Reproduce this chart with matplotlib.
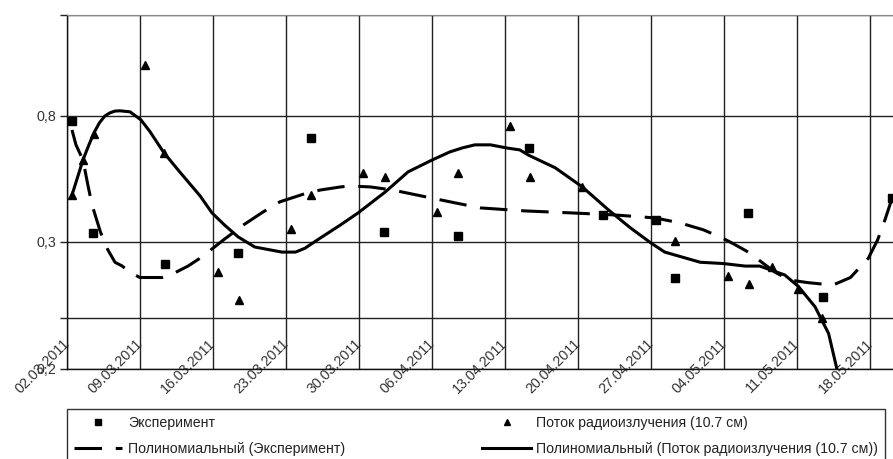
import numpy as np
import matplotlib
matplotlib.use('Agg')
import matplotlib.pyplot as plt
import matplotlib.transforms as mtransforms
from matplotlib.lines import Line2D

plt.rcParams['font.family'] = ['Liberation Sans', 'DejaVu Sans']

# x = days counted from 02.03.2011
exp_days = [0.5, 2.5, 9.4, 16.4, 23.4, 30.4, 37.5, 44.3, 51.4, 56.5, 58.3, 65.3, 72.5, 79.1]
exp_vals = [0.78, 0.336, 0.283, 0.291, 0.713, 0.340, 0.324, 0.673, 0.407, 0.387, 0.272, 0.415, 0.257, 0.475]

flux_days = [0.5, 1.5, 2.6, 7.5, 9.3, 14.5, 16.5, 21.5, 23.4, 28.4, 30.5, 35.5, 37.5,
             42.5, 44.4, 49.4, 58.3, 63.4, 65.4, 67.6, 70.1, 72.4]
flux_vals = [0.486, 0.625, 0.729, 1.002, 0.653, 0.276, 0.254, 0.352, 0.486, 0.574, 0.558, 0.419, 0.574,
             0.760, 0.558, 0.518, 0.304, 0.273, 0.267, 0.280, 0.263, 0.240]

# polynomial trend lines
trend_exp_days = [0.48, 0.86, 1.53, 2.0, 2.4, 3.2, 3.9, 4.6, 5.3, 6.0, 7.0, 9.1, 10.4, 11.6, 12.9,
                  15.0, 16.9, 18.8, 20.4, 23.0, 24.3, 26.2, 27.1, 29.1, 31.2, 35.3, 37.2, 39.6,
                  43.9, 48.4, 52.5, 56.4, 58.8, 61.0, 62.8, 64.0, 65.3, 67.9, 69.3, 71.0, 72.2,
                  73.4, 75.1, 76.0, 76.8, 77.7, 78.4, 79.1]
trend_exp_vals = [0.744, 0.685, 0.625, 0.526, 0.447, 0.340, 0.294, 0.284, 0.281, 0.276, 0.272, 0.272,
                  0.276, 0.281, 0.288, 0.308, 0.367, 0.419, 0.459, 0.494, 0.506, 0.518, 0.522, 0.518,
                  0.506, 0.471, 0.455, 0.435, 0.423, 0.415, 0.407, 0.395, 0.375, 0.348, 0.316, 0.298,
                  0.292, 0.276, 0.270, 0.268, 0.267, 0.266, 0.272, 0.280, 0.287, 0.308, 0.387, 0.475]

trend_flux_days = [0.48, 1.53, 2.1, 2.59, 3.1, 3.64, 4.12, 4.6, 5.08, 6.04, 7.09, 7.96, 9.3, 10.8,
                   12.75, 13.9, 15.1, 16.4, 18.0, 19.3, 20.6, 21.9, 22.8, 24.3, 26.2, 27.9, 30.5,
                   32.7, 35.0, 36.7, 37.9, 39.1, 40.6, 42.1, 43.4, 44.2, 46.8, 49.4, 51.9, 54.0,
                   56.0, 57.3, 59.0, 60.7, 62.9, 65.0, 66.4, 68.8, 70.1, 71.7, 73.0, 73.8]
trend_flux_vals = [0.486, 0.625, 0.685, 0.733, 0.772, 0.800, 0.812, 0.819, 0.820, 0.816, 0.784, 0.737,
                   0.653, 0.578, 0.483, 0.415, 0.367, 0.320, 0.296, 0.294, 0.292, 0.292, 0.295, 0.316,
                   0.367, 0.415, 0.498, 0.578, 0.625, 0.657, 0.673, 0.685, 0.685, 0.673, 0.665, 0.645,
                   0.594, 0.518, 0.427, 0.356, 0.299, 0.292, 0.288, 0.284, 0.283, 0.281, 0.281, 0.274,
                   0.265, 0.249, 0.228, 0.200]

date_days = [0, 7, 14, 21, 28, 35, 42, 49, 56, 63, 70, 77]
date_labels = ['02.03.2011', '09.03.2011', '16.03.2011', '23.03.2011', '30.03.2011', '06.04.2011',
               '13.04.2011', '20.04.2011', '27.04.2011', '04.05.2011', '11.05.2011', '18.05.2011']

y_ticks = [0.2, 0.24, 0.3, 0.8, 1.2]
y_labels = ['0,2', '', '0,3', '0,8', '']

# uneven value axis of the original chart
_v = [0.0, 0.2, 0.3, 0.8, 2.0]
_p = [-254.0, 0.0, 127.0, 253.0, 555.4]

def fwd(v):
    return np.interp(v, _v, _p)

def inv(p):
    return np.interp(p, _p, _v)


fig = plt.figure(figsize=(8.93, 4.59), dpi=100)
ax = fig.add_axes([67/893, 1 - 369/459, 834.6/893, 354/459])
ax.set_yscale('function', functions=(fwd, inv))
ax.set_xlim(0, 80)
ax.set_ylim(0.2, 1.2)

ax.set_xticks(date_days)
ax.set_xticklabels(date_labels, rotation=45, ha='right', va='center',
                   rotation_mode='anchor', fontsize=10.3, color='#333333')
shift = mtransforms.ScaledTranslation(4/72, 0, fig.dpi_scale_trans)
for lab in ax.get_xticklabels():
    lab.set_transform(lab.get_transform() + shift)
ax.set_yticks(y_ticks)
ax.set_yticklabels(y_labels, fontsize=10.3, color='#333333')
ax.minorticks_off()
ax.tick_params(axis='x', length=0, pad=-20)
ax.tick_params(axis='y', length=5, width=1, color='#222222', pad=3)

ax.grid(True, color='#222222', lw=1.0)
ax.set_axisbelow(True)
for s in ['left', 'bottom']:
    ax.spines[s].set_color('#111111')
    ax.spines[s].set_linewidth(1.0)
ax.spines['top'].set_color('#888888')
ax.spines['right'].set_visible(False)

ax.plot(trend_exp_days, trend_exp_vals, color='black', lw=2.2, ls=(0, (9, 4.5)), zorder=3)
ax.plot(trend_flux_days, trend_flux_vals, color='black', lw=2.2, zorder=3)
ax.plot(exp_days, exp_vals, ls='none', marker='s', ms=5.2, color='black', zorder=4)
ax.plot(flux_days, flux_vals, ls='none', marker='^', ms=6, color='black', zorder=4)

handles = [
    Line2D([], [], ls='none', marker='s', ms=4, color='black'),
    Line2D([], [], color='black', lw=2.2, ls=(0, (9, 4.5))),
    Line2D([], [], ls='none', marker='^', ms=5, color='black'),
    Line2D([], [], color='black', lw=2.2),
]
labels = ['Эксперимент', 'Полиномиальный (Эксперимент)',
          'Поток радиоизлучения (10.7 см)', 'Полиномиальный (Поток радиоизлучения (10.7 см))']
leg = fig.legend(handles, labels, ncol=2, loc='upper left',
                 bbox_to_anchor=(67/893, 1 - 409/459), bbox_transform=fig.transFigure,
                 borderaxespad=0, fontsize=10.2, frameon=True, fancybox=False,
                 handlelength=3.4, handletextpad=0.4, columnspacing=9.7,
                 labelspacing=0.82, borderpad=0.5)
leg.get_frame().set_edgecolor('black')
leg.get_frame().set_linewidth(1.0)
for t in leg.get_texts():
    t.set_color('#222222')

fig.savefig('out.png', dpi=100)
